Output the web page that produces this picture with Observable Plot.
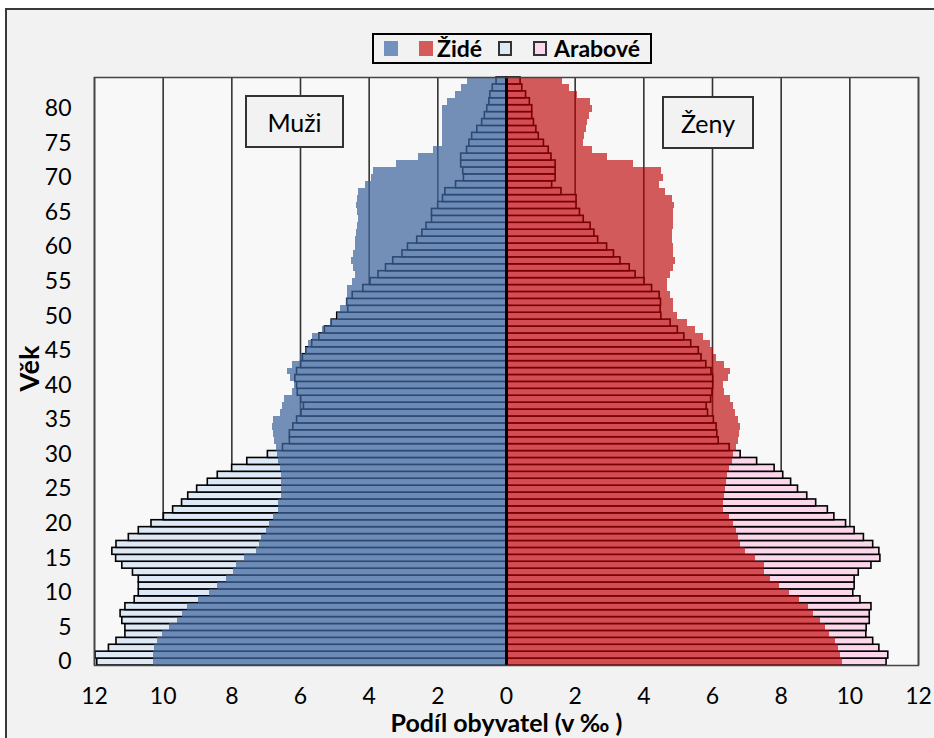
<!DOCTYPE html>
<html>
<head>
<meta charset="utf-8">
<script src="https://cdn.jsdelivr.net/npm/d3@7"></script>
<script src="https://cdn.jsdelivr.net/npm/@observablehq/plot@0.6"></script>
<style>
  html, body { margin: 0; padding: 0; background: #ffffff; }
  body { width: 934px; height: 738px; position: relative; overflow: hidden; font-family: Lato, "Open Sans", sans-serif; }
  #panel { position: absolute; left: 5px; top: 8px; width: 960px; height: 760px; border: 2px solid #3a3a3a; background: #f2f2f2; box-sizing: border-box; }
  #chart { position: absolute; left: 0; top: 0; }
  .box { position: absolute; box-sizing: border-box; border: 2px solid #333; background: #f2f2f2; display: flex; align-items: center; justify-content: center; font-size: 25px; color: #000; font-family: Lato, sans-serif; }
  #legend { position: absolute; left: 372px; top: 33px; width: 280px; height: 31px; box-sizing: border-box; border: 2px solid #000; background: #f2f2f2; }
  .sq { position: absolute; width: 14px; height: 15px; box-sizing: border-box; }
  .lt { position: absolute; font-weight: bold; font-size: 23px; line-height: 31px; top: 33px; color: #000; font-family: Lato, sans-serif; }
</style>
</head>
<body>
<div id="panel"></div>
<div id="chart"></div>
<div id="legend"></div>
<div class="sq" style="left:384px; top:41px; background:#7391be;"></div>
<div class="sq" style="left:419px; top:41px; background:#d65a5a;"></div>
<div class="lt" style="left:437px;">Židé</div>
<div class="sq" style="left:498px; top:41px; background:#dde9f6; border:2px solid #333;"></div>
<div class="sq" style="left:533px; top:41px; background:#fcd6ea; border:2px solid #333;"></div>
<div class="lt" style="left:554px;">Arabové</div>
<div class="box" style="left:245px; top:95px; width:99px; height:53px;">Muži</div>
<div class="box" style="left:662px; top:96px; width:92px; height:53px;">Ženy</div>
<script>
// Ages 0..84
const ages = d3.range(0, 85);

// Per-mille share of population, index = age
const jewsMale = [10.27,10.27,10.25,10.17,10.02,9.81,9.57,9.45,9.30,8.98,
  8.65,8.41,8.16,7.94,7.86,7.63,7.29,7.20,7.14,7.00,
  6.90,6.78,6.63,6.63,6.56,6.55,6.56,6.56,6.58,6.63,
  6.68,6.70,6.76,6.78,6.83,6.80,6.58,6.53,6.46,6.24,
  6.17,6.29,6.37,6.24,6.00,5.85,5.76,5.66,5.37,5.13,
  4.93,4.84,4.66,4.64,4.64,4.50,4.40,4.45,4.52,4.45,
  4.40,4.40,4.38,4.35,4.30,4.35,4.38,4.35,4.30,4.10,
  3.93,3.86,3.20,2.55,2.14,1.85,1.85,1.85,1.85,1.85,
  1.85,1.73,1.49,1.31,1.15];

const arabsMale = [11.92,11.97,11.58,11.36,11.10,11.10,11.19,11.24,11.10,10.83,
  10.71,10.71,10.71,10.88,11.19,11.37,11.48,11.36,11.00,10.71,
  10.34,9.98,9.71,9.45,9.27,9.01,8.70,8.41,7.99,7.55,
  6.95,6.51,6.31,6.31,6.21,6.10,5.97,5.90,5.98,6.08,
  6.10,6.15,6.10,5.98,5.93,5.83,5.66,5.45,5.29,5.09,
  4.93,4.61,4.64,4.48,4.17,3.96,3.73,3.51,3.30,3.03,
  2.87,2.60,2.45,2.33,2.17,2.17,1.99,1.85,1.78,1.47,
  1.24,1.26,1.32,1.32,1.15,1.08,1.00,0.85,0.71,0.63,
  0.56,0.50,0.47,0.40,0.29];

const jewsFemale = [9.78,9.73,9.68,9.58,9.42,9.29,9.15,8.95,8.81,8.54,
  8.24,7.96,7.69,7.51,7.50,7.25,6.96,6.82,6.77,6.70,
  6.62,6.49,6.31,6.31,6.35,6.38,6.41,6.45,6.50,6.57,
  6.62,6.69,6.77,6.80,6.82,6.77,6.67,6.62,6.52,6.35,
  6.31,6.48,6.52,6.35,6.12,6.04,5.94,5.75,5.50,5.26,
  4.97,4.87,4.87,4.78,4.70,4.70,4.78,4.87,4.92,4.87,
  4.85,4.84,4.84,4.85,4.85,4.87,4.89,4.83,4.63,4.47,
  4.56,4.50,3.71,2.93,2.50,2.25,2.27,2.33,2.37,2.43,
  2.50,2.45,2.06,1.84,1.62];

const arabsFemale = [11.07,11.12,10.86,10.68,10.48,10.49,10.58,10.58,10.63,10.31,
  10.10,10.14,10.14,10.26,10.63,10.89,10.86,10.68,10.41,10.14,
  9.89,9.55,9.36,9.02,8.76,8.49,8.29,8.06,7.81,7.30,
  6.82,6.50,6.18,6.14,6.12,6.04,5.87,5.83,5.96,6.00,
  6.02,6.02,5.97,5.82,5.68,5.60,5.38,5.18,4.99,4.78,
  4.51,4.49,4.50,4.46,4.24,4.02,3.76,3.59,3.32,3.13,
  2.93,2.67,2.56,2.45,2.25,2.14,2.04,2.04,1.60,1.33,
  1.43,1.43,1.43,1.31,1.23,1.09,0.94,0.87,0.80,0.75,
  0.75,0.68,0.57,0.46,0.41];

const xTicks = d3.range(-12, 13, 2);
const yTicks = d3.range(0, 85, 5);
const xLabel = "Podíl obyvatel (v ‰ )";
const yLabel = "Věk";

const rows = (vals, sign) => ages.map((a, i) => ({age: a, v: sign * vals[i]}));
const jm = rows(jewsMale, -1), jf = rows(jewsFemale, 1);
const am = rows(arabsMale, -1), af = rows(arabsFemale, 1);

const font = "Lato, 'Open Sans', sans-serif";

const chart = Plot.plot({
  width: 934,
  height: 738,
  marginLeft: 94,
  marginRight: 16,
  marginTop: 77,
  marginBottom: 73,
  style: {background: "transparent", fontFamily: font, fontSize: "23px", color: "#000", overflow: "visible"},
  x: {domain: [-12, 12]},
  y: {type: "band", domain: ages.slice().reverse(), padding: 0},
  marks: [
    Plot.frame({fill: "#f8f8f8"}),
    Plot.ruleX(xTicks.filter(d => d !== 0), {stroke: "#333", strokeWidth: 1.6}),
    Plot.barX(am, {y: "age", x1: 0, x2: "v", fill: "#dde9f6", stroke: "#000", strokeWidth: 1.6}),
    Plot.barX(af, {y: "age", x1: 0, x2: "v", fill: "#fcd6ea", stroke: "#000", strokeWidth: 1.6}),
    Plot.barX(jm, {y: "age", x1: 0, x2: "v", fill: "#41679e", fillOpacity: 0.72, shapeRendering: "crispEdges"}),
    Plot.barX(jf, {y: "age", x1: 0, x2: "v", fill: "#be0000", fillOpacity: 0.64, shapeRendering: "crispEdges"}),
    Plot.ruleX([0], {stroke: "#000", strokeWidth: 3}),
    Plot.frame({stroke: "#444", strokeWidth: 1.5}),
    Plot.axisX(xTicks, {tickFormat: d => Math.abs(d), tickSize: 0, tickPadding: 22, fontSize: 23, label: null}),
    Plot.axisY(yTicks, {tickSize: 0, tickPadding: 23, fontSize: 23, label: null}),
    Plot.text([xLabel], {frameAnchor: "bottom", lineAnchor: "middle", textAnchor: "middle", dy: 58, fontSize: 25, fontWeight: "bold", fill: "#000"}),
    Plot.text([yLabel], {frameAnchor: "left", textAnchor: "middle", lineAnchor: "middle", dx: -64, dy: -3, rotate: -90, fontSize: 27, fontWeight: "bold", fill: "#000"})
  ]
});
document.getElementById("chart").appendChild(chart);
</script>
</body>
</html>
